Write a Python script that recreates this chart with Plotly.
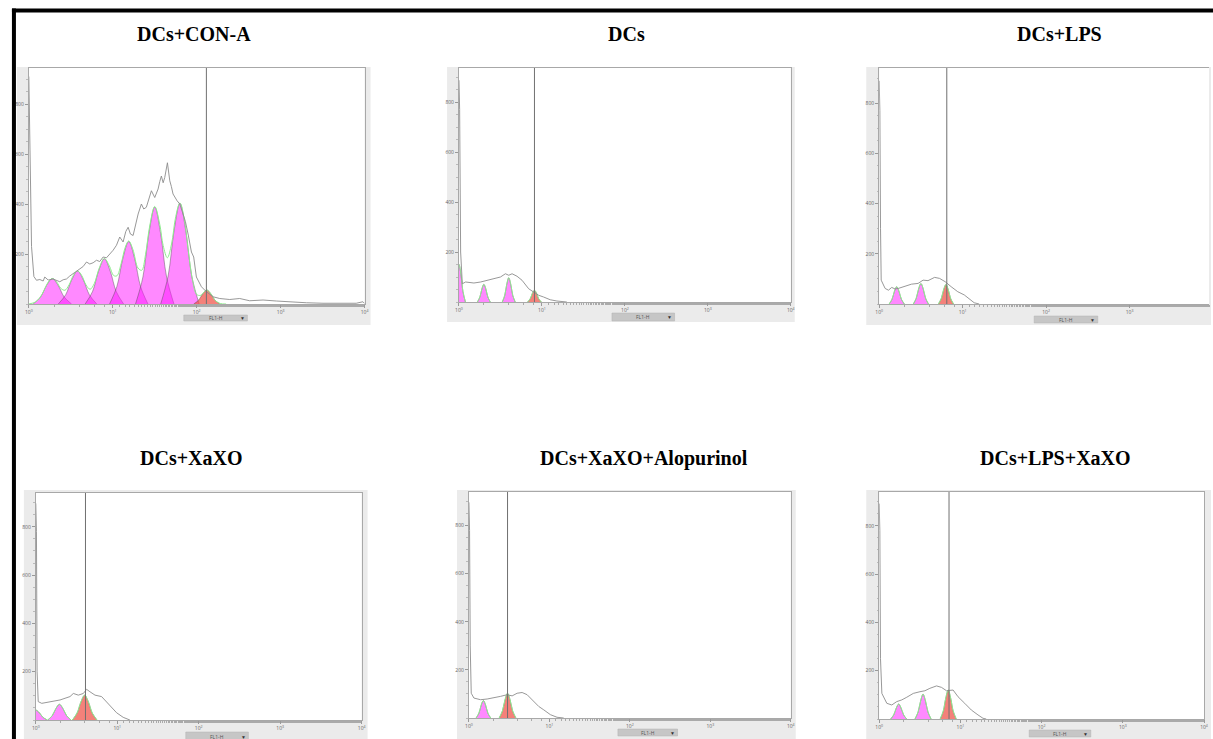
import numpy as np
import plotly.graph_objects as go

W, H = 1213, 739

# ---------------- data (x in log10 FL1-H units, y = counts) ----------------
titles = ["DCs+CON-A", "DCs", "DCs+LPS", "DCs+XaXO", "DCs+XaXO+Alopurinol", "DCs+LPS+XaXO"]

x_tickvals = [1, 10, 100, 1000, 10000]
x_ticktext = ["10<sup>0</sup>", "10<sup>1</sup>", "10<sup>2</sup>", "10<sup>3</sup>", "10<sup>4</sup>"]
y_tickvals = [200, 400, 600, 800]

# Panel 1: DCs+CON-A
conA_hist_logx = [0.0, 0.012, 0.032, 0.06, 0.091, 0.131, 0.171, 0.19, 0.23, 0.29, 0.329, 0.369, 0.409,
                  0.448, 0.488, 0.528, 0.587, 0.647, 0.687, 0.726, 0.766, 0.806, 0.845, 0.885, 0.925,
                  0.964, 1.004, 1.044, 1.083, 1.123, 1.155, 1.183, 1.21, 1.242, 1.274, 1.302, 1.341,
                  1.369, 1.40, 1.433, 1.46, 1.50, 1.54, 1.56, 1.579, 1.60, 1.619, 1.651, 1.667, 1.679,
                  1.698, 1.718, 1.766, 1.798, 1.837, 1.865, 1.897, 1.937, 1.964, 1.996, 2.056, 2.115,
                  2.194, 2.274, 2.393, 2.512, 2.631, 2.79, 2.948, 3.107, 3.306, 3.504, 3.742, 3.9, 3.98, 4.0]
conA_hist_count = [910, 705, 230, 110, 95, 98, 92, 108, 96, 100, 96, 89, 97,
                   100, 112, 122, 135, 150, 168, 160, 165, 175, 170, 188, 185,
                   200, 215, 235, 268, 248, 290, 307, 280, 274, 320, 360, 400,
                   380, 387, 420, 453, 426, 460, 490, 512, 485, 506, 565, 520, 493,
                   470, 440, 413, 400, 360, 330, 280, 208, 188, 108, 69, 49,
                   29, 22, 18, 22, 13, 16, 12, 8, 5, 3, 3, 3, 9, 2]
conA_peak_logx = [
    [0.051, 0.139, 0.21, 0.28, 0.35, 0.421, 0.509],
    [0.351, 0.439, 0.51, 0.58, 0.65, 0.721, 0.809],
    [0.671, 0.759, 0.83, 0.90, 0.97, 1.041, 1.129],
    [0.961, 1.049, 1.12, 1.19, 1.26, 1.331, 1.419],
    [1.271, 1.359, 1.43, 1.50, 1.57, 1.641, 1.729],
    [1.571, 1.659, 1.73, 1.80, 1.87, 1.941, 2.029],
]
conA_peak_count = [
    [0, 28, 74, 102, 74, 28, 0],
    [0, 37, 96, 132, 96, 37, 0],
    [0, 50, 131, 181, 131, 50, 0],
    [0, 70, 182, 250, 182, 70, 0],
    [0, 108, 282, 388, 282, 108, 0],
    [0, 112, 293, 403, 293, 112, 0],
]
conA_parent_logx = [1.964, 2.024, 2.072, 2.12, 2.168, 2.216, 2.276]
conA_parent_count = [0, 16, 41, 56, 41, 16, 0]
conA_fit_logx = [0.0, 0.08, 0.13, 0.18, 0.23, 0.28, 0.33, 0.38, 0.43, 0.48, 0.53, 0.58, 0.63, 0.68, 0.73,
                 0.78, 0.84, 0.90, 0.96, 1.01, 1.05, 1.10, 1.15, 1.19, 1.24, 1.30, 1.345, 1.39, 1.44,
                 1.50, 1.56, 1.60, 1.65, 1.70, 1.75, 1.80, 1.85, 1.90, 1.95, 2.00, 2.05, 2.12, 2.17,
                 2.22, 2.28, 2.35]
conA_fit_count = [0, 8, 24, 53, 87, 102, 89, 63, 55, 77, 114, 132, 114, 77, 59,
                  82, 145, 182, 152, 114, 113, 162, 228, 252, 218, 144, 135, 197, 312,
                  390, 318, 234, 185, 240, 350, 404, 343, 211, 95, 38, 35, 56, 40,
                  14, 2, 0]
conA_gate = 2.115

# Panel 2: DCs
dcs_hist_logx = [0.0, 0.008, 0.02, 0.04, 0.08, 0.18, 0.26, 0.34, 0.42, 0.50, 0.56, 0.60, 0.64, 0.70,
                 0.76, 0.80, 0.84, 0.90, 0.96, 1.02, 1.10, 1.18, 1.26, 1.30]
dcs_hist_count = [887, 770, 200, 73, 80, 76, 80, 87, 93, 100, 113, 107, 113, 103,
                  87, 71, 53, 40, 27, 20, 9, 4, 3, 0]
dcs_peak_logx = [
    [-0.078, -0.048, -0.024, 0.0, 0.024, 0.048, 0.078],
    [0.222, 0.252, 0.276, 0.30, 0.324, 0.348, 0.378],
    [0.522, 0.552, 0.576, 0.60, 0.624, 0.648, 0.678],
]
dcs_peak_count = [
    [0, 42, 109, 150, 109, 42, 0],
    [0, 20, 52, 71, 52, 20, 0],
    [0, 27, 71, 97, 71, 27, 0],
]
dcs_parent_logx = [0.827, 0.859, 0.884, 0.91, 0.936, 0.961, 0.993]
dcs_parent_count = [0, 13, 34, 47, 34, 13, 0]
dcs_gate = 0.91

# Panel 3: DCs+LPS
lps_hist_logx = [0.0, 0.008, 0.016, 0.024, 0.071, 0.111, 0.15, 0.19, 0.229, 0.308, 0.387, 0.466, 0.526,
                 0.585, 0.664, 0.723, 0.79, 0.862, 0.941, 1.02, 1.079, 1.138, 1.198]
lps_hist_count = [889, 770, 300, 95, 62, 55, 66, 60, 62, 71, 79, 82, 95,
                  93, 106, 102, 89, 69, 49, 36, 19, 5, 0]
lps_peak_logx = [
    [0.119, 0.154, 0.182, 0.21, 0.238, 0.266, 0.301],
    [0.409, 0.444, 0.472, 0.50, 0.528, 0.556, 0.591],
]
lps_peak_count = [
    [0, 19, 50, 69, 50, 19, 0],
    [0, 23, 60, 82, 60, 23, 0],
]
lps_parent_logx = [0.709, 0.744, 0.772, 0.80, 0.828, 0.856, 0.891]
lps_parent_count = [0, 22, 57, 78, 57, 22, 0]
lps_gate = 0.81

# Panel 4: DCs+XaXO
xaxo_hist_logx = [0.0, 0.008, 0.016, 0.03, 0.073, 0.135, 0.216, 0.298, 0.359, 0.42, 0.461, 0.522, 0.584,
                  0.624, 0.665, 0.727, 0.808, 0.869, 0.931, 0.992, 1.073, 1.155]
xaxo_hist_count = [897, 780, 200, 76, 69, 72, 76, 83, 90, 97, 110, 103, 110,
                   127, 117, 103, 97, 76, 55, 30, 11, 0]
xaxo_peak_logx = [
    [-0.143, -0.088, -0.044, 0.0, 0.044, 0.088, 0.143],
    [0.147, 0.202, 0.246, 0.29, 0.334, 0.378, 0.433],
]
xaxo_peak_count = [
    [0, 11, 30, 41, 30, 11, 0],
    [0, 18, 47, 65, 47, 18, 0],
]
xaxo_parent_logx = [0.449, 0.507, 0.554, 0.60, 0.646, 0.693, 0.751]
xaxo_parent_count = [0, 29, 75, 103, 75, 29, 0]
xaxo_gate = 0.61

# Panel 5: DCs+XaXO+Alopurinol
alo_hist_logx = [0.0, 0.008, 0.016, 0.029, 0.062, 0.145, 0.227, 0.31, 0.393, 0.475, 0.537, 0.599, 0.661,
                 0.723, 0.785, 0.868, 0.93, 1.012, 1.095, 1.178]
alo_hist_count = [897, 780, 300, 103, 83, 76, 79, 83, 90, 97, 92, 103, 106,
                  97, 76, 48, 34, 14, 3, 0]
alo_peak_logx = [
    [0.089, 0.124, 0.152, 0.18, 0.208, 0.236, 0.271],
]
alo_peak_count = [
    [0, 20, 53, 73, 53, 20, 0],
]
alo_parent_logx = [0.376, 0.416, 0.448, 0.48, 0.512, 0.544, 0.584]
alo_parent_count = [0, 29, 75, 103, 75, 29, 0]
alo_gate = 0.48

# Panel 6: DCs+LPS+XaXO
lpsx_hist_logx = [0.0, 0.008, 0.016, 0.033, 0.094, 0.155, 0.216, 0.278, 0.339, 0.42, 0.502, 0.563, 0.624,
                  0.706, 0.767, 0.829, 0.91, 0.971, 1.053, 1.135, 1.216, 1.278, 1.318]
lpsx_hist_count = [892, 780, 250, 106, 65, 58, 72, 79, 90, 106, 113, 117, 127,
                   137, 131, 117, 120, 92, 65, 37, 17, 3, 0]
lpsx_peak_logx = [
    [0.141, 0.179, 0.21, 0.24, 0.27, 0.301, 0.339],
    [0.441, 0.479, 0.51, 0.54, 0.57, 0.601, 0.639],
]
lpsx_peak_count = [
    [0, 17, 45, 62, 45, 17, 0],
    [0, 29, 75, 103, 75, 29, 0],
]
lpsx_parent_logx = [0.751, 0.789, 0.82, 0.85, 0.88, 0.911, 0.949]
lpsx_parent_count = [0, 33, 87, 120, 87, 33, 0]
lpsx_gate = 0.86

# ---------------- layout geometry (pixels) ----------------
geo = [
    dict(px=(25, 363, 68, 304), xr=4.0, ymax=944, bg=(13, 369, 67, 325), btn=(181, 245, 315, 321), tx=191, ty=34),
    dict(px=(458, 792, 68, 302), xr=4.0, ymax=936, bg=(446, 796, 67, 322), btn=(612, 675, 313, 321), tx=627, ty=34),
    dict(px=(881, 1213, 68, 304), xr=3.952, ymax=940, bg=(868, 1215, 67, 325), btn=(1037, 1101, 316, 323), tx=1063, ty=34),
    dict(px=(32, 360, 493, 720), xr=4.0, ymax=940, bg=(20, 366, 490, 741), btn=(183, 246, 732, 741), tx=189, ty=458),
    dict(px=(468, 792, 492, 718), xr=4.0, ymax=940, bg=(456, 797, 490, 741), btn=(618, 678, 729, 736), tx=644, ty=458),
    dict(px=(881, 1208, 492, 719), xr=4.0, ymax=940, bg=(868, 1215, 490, 741), btn=(1032, 1094, 730, 737), tx=1058, ty=458),
]

panels = [
    (conA_hist_logx, conA_hist_count, conA_peak_logx, conA_peak_count, conA_parent_logx, conA_parent_count, conA_gate),
    (dcs_hist_logx, dcs_hist_count, dcs_peak_logx, dcs_peak_count, dcs_parent_logx, dcs_parent_count, dcs_gate),
    (lps_hist_logx, lps_hist_count, lps_peak_logx, lps_peak_count, lps_parent_logx, lps_parent_count, lps_gate),
    (xaxo_hist_logx, xaxo_hist_count, xaxo_peak_logx, xaxo_peak_count, xaxo_parent_logx, xaxo_parent_count, xaxo_gate),
    (alo_hist_logx, alo_hist_count, alo_peak_logx, alo_peak_count, alo_parent_logx, alo_parent_count, alo_gate),
    (lpsx_hist_logx, lpsx_hist_count, lpsx_peak_logx, lpsx_peak_count, lpsx_parent_logx, lpsx_parent_count, lpsx_gate),
]


def fx(p):
    return p / W


def fy(p):
    return 1 - p / H


fig = go.Figure()
shapes = []
annotations = []
layout_axes = {}

for i, (g, pdata) in enumerate(zip(geo, panels)):
    s = "" if i == 0 else str(i + 1)
    xa, ya = "x" + s, "y" + s
    hx, hy, pkx, pky, parx, pary, gate = pdata
    l, r, t, b = g["px"]

    bl, br, bt, bb = g["bg"]
    shapes.append(dict(type="rect", xref="paper", yref="paper", x0=fx(bl), x1=fx(br), y0=fy(bb), y1=fy(bt),
                       fillcolor="#EBEBEB", line=dict(width=0), layer="below"))
    shapes.append(dict(type="rect", xref="paper", yref="paper", x0=fx(l), x1=fx(r), y0=fy(b), y1=fy(t),
                       fillcolor="white", line=dict(width=0), layer="below"))
    ql, qr, qt, qb = g["btn"]
    shapes.append(dict(type="rect", xref="paper", yref="paper", x0=fx(ql), x1=fx(qr), y0=fy(qb), y1=fy(qt),
                       fillcolor="#C6C6C6", line=dict(width=0.5, color="#B0B0B0"), layer="above"))
    annotations.append(dict(xref="paper", yref="paper", x=fx((ql + qr) / 2), y=fy((qt + qb) / 2),
                            text="FL1-H", showarrow=False, font=dict(size=5, color="#555"),
                            xanchor="center", yanchor="middle"))
    annotations.append(dict(xref="paper", yref="paper", x=fx(qr - 5), y=fy((qt + qb) / 2),
                            text="▼", showarrow=False, font=dict(size=5, color="#333"),
                            xanchor="center", yanchor="middle"))
    annotations.append(dict(xref="paper", yref="paper", x=fx(g["tx"]), y=fy(g["ty"]), text="<b>%s</b>" % titles[i],
                            showarrow=False, font=dict(family="Liberation Serif", size=20, color="black"),
                            xanchor="center", yanchor="middle"))

    for px_, py_ in zip(pkx, pky):
        fig.add_trace(go.Scatter(x=10 ** np.array(px_), y=py_, mode="lines", line_shape="spline",
                                 fill="tozeroy", fillcolor="rgba(255,20,255,0.5)",
                                 line=dict(color="rgba(80,80,80,0.75)", width=0.6),
                                 xaxis=xa, yaxis=ya, hoverinfo="skip"))
    fig.add_trace(go.Scatter(x=10 ** np.array(parx), y=pary, mode="lines", line_shape="spline",
                             fill="tozeroy", fillcolor="rgba(240,80,70,0.72)",
                             line=dict(color="rgba(80,80,80,0.75)", width=0.6),
                             xaxis=xa, yaxis=ya, hoverinfo="skip"))
    if i == 0:
        fit_x, fit_y = list(conA_fit_logx), list(conA_fit_count)
    else:
        fit_x, fit_y = [], []
        for px_, py_ in list(zip(pkx, pky)) + [(parx, pary)]:
            fit_x += list(px_) + [None]
            fit_y += list(py_) + [None]
    fit_xv = [None if v is None else 10 ** v for v in fit_x]
    fig.add_trace(go.Scatter(x=fit_xv, y=fit_y, mode="lines", line_shape="spline",
                             line=dict(color="#8EEB8E", width=1), connectgaps=False,
                             xaxis=xa, yaxis=ya, hoverinfo="skip"))
    fig.add_trace(go.Scatter(x=10 ** np.array(hx), y=hy, mode="lines",
                             line=dict(color="#8C8C8C", width=0.9),
                             xaxis=xa, yaxis=ya, hoverinfo="skip"))
    fig.add_trace(go.Scatter(x=[10 ** gate, 10 ** gate], y=[0, g["ymax"]], mode="lines",
                             line=dict(color="#707070", width=1),
                             xaxis=xa, yaxis=ya, hoverinfo="skip"))

    layout_axes["xaxis" + s] = dict(
        type="log", range=[0, g["xr"]], domain=[fx(l), fx(r)], anchor=ya,
        tickvals=x_tickvals, ticktext=x_ticktext, tickfont=dict(size=5, color="#666"),
        ticks="outside", ticklen=3, tickcolor="#999", showgrid=False, zeroline=False,
        showline=True, linecolor="#A8A8A8", linewidth=1, mirror=True,
        minor=dict(ticks="outside", ticklen=2, tickcolor="#aaa", showgrid=False),
        fixedrange=True,
    )
    layout_axes["yaxis" + s] = dict(
        range=[0, g["ymax"]], domain=[fy(b), fy(t)], anchor=xa,
        tickvals=y_tickvals, tickfont=dict(size=5, color="#666"),
        ticks="outside", ticklen=3, tickcolor="#999", showgrid=False, zeroline=False,
        showline=True, linecolor="#A8A8A8", linewidth=1, mirror=(i != 2),
        minor=dict(ticks="outside", ticklen=1.5, tickcolor="#bbb", dtick=50, showgrid=False),
        fixedrange=True,
    )

shapes.append(dict(type="line", xref="paper", yref="paper", x0=fx(10), x1=fx(10), y0=-0.02, y1=fy(8.5),
                   line=dict(color="black", width=4)))
shapes.append(dict(type="line", xref="paper", yref="paper", x0=fx(8), x1=1.02, y0=fy(10.5), y1=fy(10.5),
                   line=dict(color="black", width=4)))

fig.update_layout(
    width=W, height=H, margin=dict(l=0, r=0, t=0, b=0),
    paper_bgcolor="white", plot_bgcolor="white", showlegend=False,
    shapes=shapes, annotations=annotations, **layout_axes,
)

fig.write_html("out.html")
